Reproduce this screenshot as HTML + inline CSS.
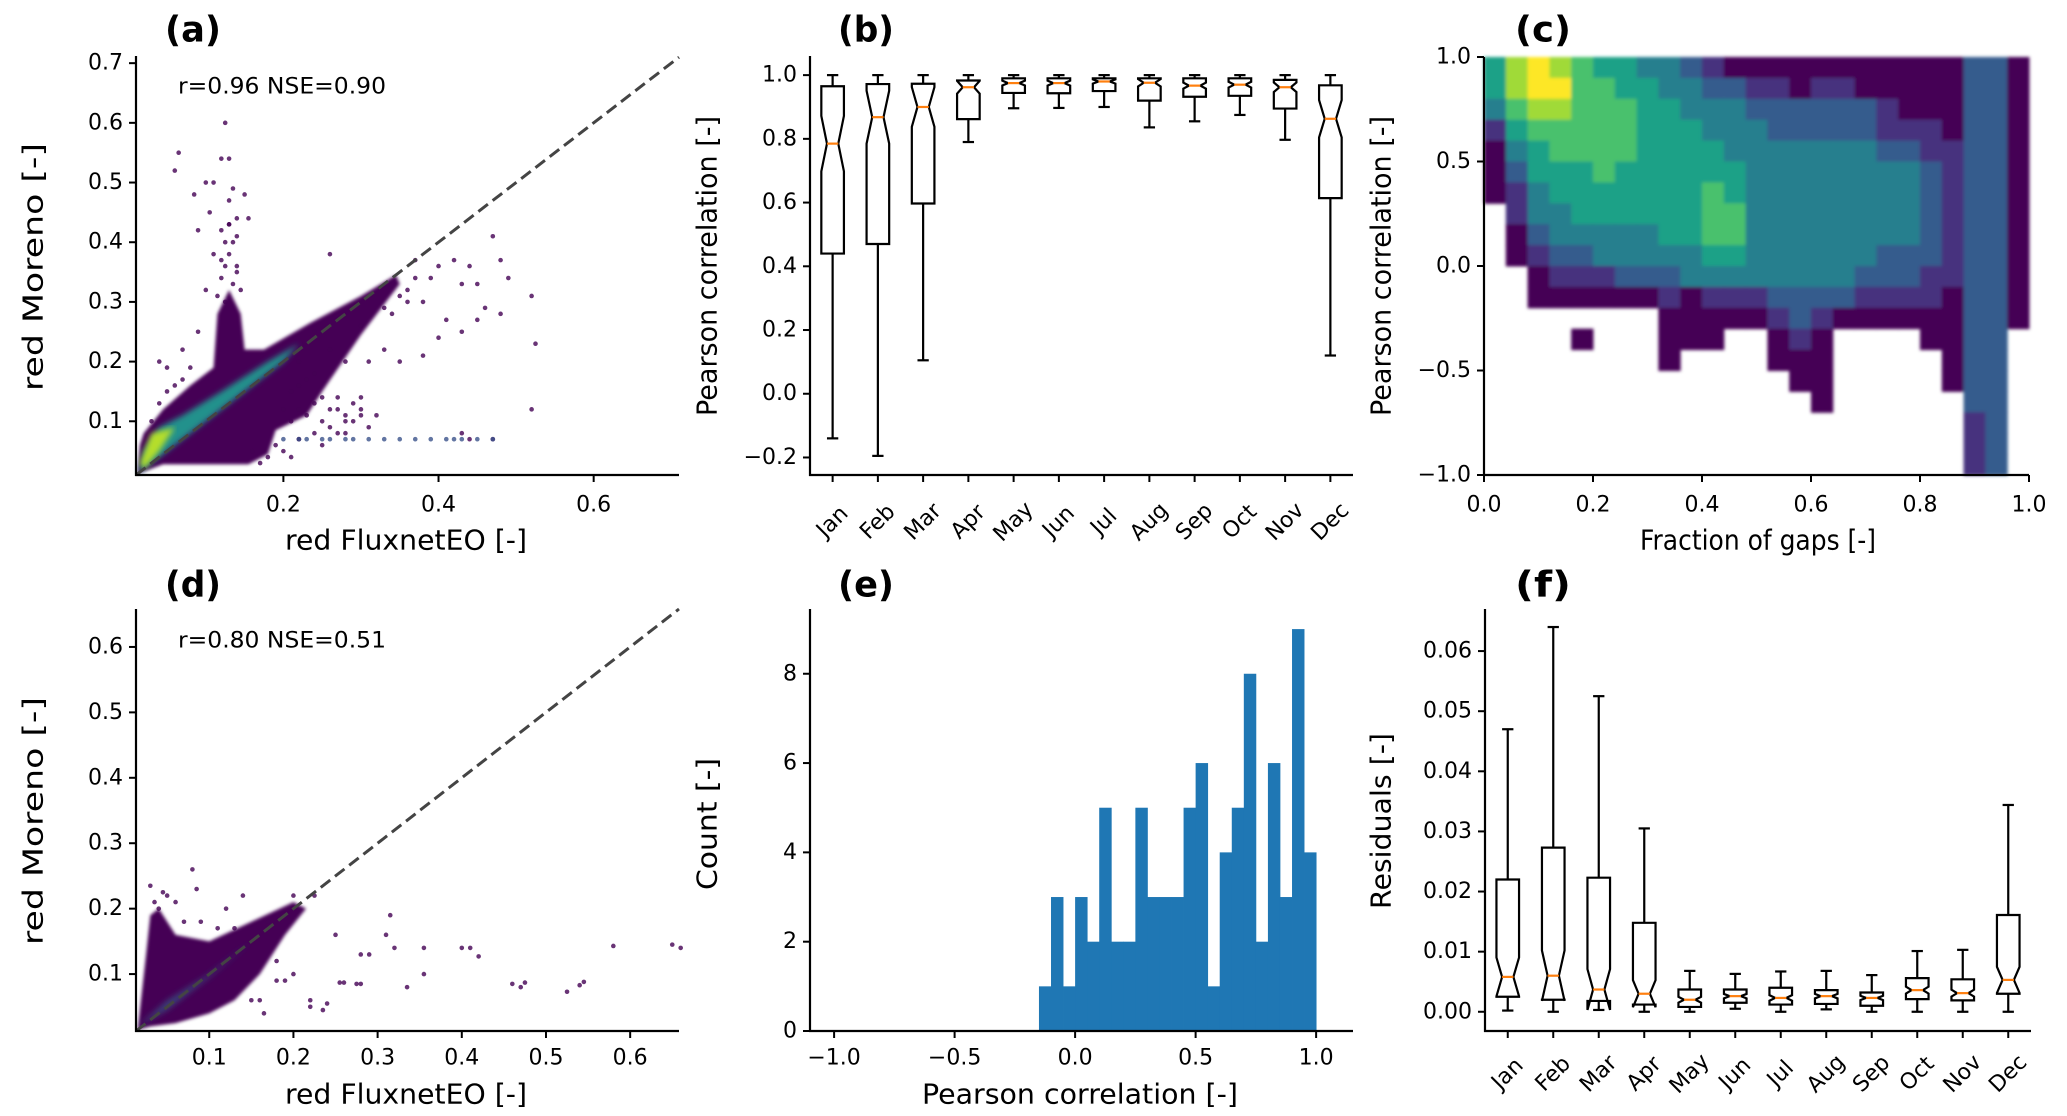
<!DOCTYPE html>
<html><head><meta charset="utf-8"><style>
html,body{margin:0;padding:0;background:#fff;}
svg{display:block;font-family:"DejaVu Sans","Liberation Sans",sans-serif;}
</style></head><body>
<svg id="fig" width="2067" height="1116" viewBox="0 0 2067 1116" xmlns="http://www.w3.org/2000/svg">
<defs><filter id="soft" x="-5%" y="-5%" width="110%" height="110%"><feGaussianBlur stdDeviation="3"/></filter>
<filter id="soft2" x="-5%" y="-5%" width="110%" height="110%"><feGaussianBlur stdDeviation="1.5"/></filter></defs>
</svg>
<script>
// ---------- data ----------
const months = ["Jan","Feb","Mar","Apr","May","Jun","Jul","Aug","Sep","Oct","Nov","Dec"];
// panel b: Pearson correlation per month
const bWhisLo = [-0.14,-0.195,0.105,0.79,0.896,0.897,0.90,0.836,0.855,0.875,0.797,0.12];
const bQ1 = [0.44,0.47,0.597,0.862,0.944,0.943,0.95,0.92,0.932,0.935,0.895,0.614];
const bMed = [0.785,0.868,0.90,0.962,0.975,0.975,0.98,0.976,0.967,0.97,0.962,0.863];
const bQ3 = [0.965,0.972,0.973,0.983,0.99,0.99,0.99,0.99,0.99,0.99,0.985,0.968];
const bWhisHi = [1.0,1.0,1.0,1.0,1.0,1.0,1.0,1.0,1.0,1.0,1.0,1.0];
const bTicks = [-0.2,0.0,0.2,0.4,0.6,0.8,1.0];
// panel f: residuals per month
const fWhisLo = [0.0002,0,0.0003,0,0,0.0005,0,0.0004,0,0,0,0];
const fQ1 = [0.0025,0.002,0.0018,0.0012,0.0008,0.0015,0.0012,0.0013,0.001,0.0021,0.0019,0.003];
const fMed = [0.0058,0.006,0.0037,0.003,0.002,0.0026,0.0023,0.0026,0.0023,0.0036,0.0031,0.0053];
const fQ3 = [0.022,0.0273,0.0223,0.0148,0.0037,0.0037,0.004,0.0036,0.0032,0.0056,0.0054,0.0161];
const fWhisHi = [0.047,0.064,0.0525,0.0305,0.0068,0.0063,0.0067,0.0068,0.0061,0.0101,0.0103,0.0344];
const fTicks = [0,0.01,0.02,0.03,0.04,0.05,0.06];
const notchN = 90;
// panel e: histogram
const eBinStart = -0.15, eBinWidth = 0.05;
const eCounts = [1,3,1,3,2,5,2,2,5,3,3,3,5,6,1,4,5,8,2,6,3,9,4];
const eXTicks = [-1.0,-0.5,0.0,0.5,1.0];
const eYTicks = [0,2,4,6,8];
// panel c: hexbin density levels (rows y=0.95..-0.95, cols x=0.02..0.98)
const cDensity = [
"5787655443211111111111331",
"5788665544332212211111331",
"4677666554443333332111331",
"2566666555444333332221331",
"1456666555544444443322331",
"1355565555554444444432331",
"1245555555654444444432331",
"0244555555664444444432331",
"0134444455664444444432331",
"0123344444554444443332331",
"0012223334444444433322331",
"0011111121222333322221331",
"0000000011111232111111331",
"0000100011100121000011330",
"0000000010000111000001330",
"0000000000000011000001330",
"0000000000000001000000330",
"0000000000000000000000230",
"0000000000000000000000230",
"0000000000000000000000230"];
const cXTicks = [0,0.2,0.4,0.6,0.8,1.0];
const cYTicks = [-1.0,-0.5,0.0,0.5,1.0];
// panel a: scatter
const aCloudX = [0.012,0.015,0.02,0.045,0.08,0.11,0.115,0.13,0.145,0.15,0.175,0.235,0.3,0.345,0.35,0.3,0.25,0.23,0.19,0.18,0.155,0.045];
const aCloudY = [0.012,0.06,0.08,0.12,0.16,0.19,0.28,0.32,0.28,0.22,0.22,0.265,0.31,0.345,0.33,0.245,0.15,0.11,0.085,0.045,0.028,0.028];
const aCoreX = [0.013,0.02,0.04,0.07,0.12,0.18,0.22,0.2,0.12,0.06,0.03];
const aCoreY = [0.013,0.05,0.09,0.11,0.15,0.2,0.23,0.2,0.12,0.06,0.03];
const aPtsX = [0.06,0.065,0.085,0.09,0.1,0.105,0.11,0.12,0.125,0.13,0.13,0.135,0.14,0.14,0.15,0.155,0.125,0.12,0.11,0.13,0.26,0.37,0.39,0.4,0.42,0.43,0.44,0.45,0.47,0.48,0.48,0.49,0.52,0.525,0.52,0.45,0.46,0.43,0.41,0.36,0.33,0.3,0.28,0.26,0.24,0.22,0.22,0.25,0.27,0.29,0.3,0.31,0.32,0.28,0.2,0.21,0.23,0.17,0.18,0.33,0.35,0.38,0.4,0.43,0.44,0.47,0.09,0.07,0.05,0.04,0.1,
 0.12,0.125,0.13,0.135,0.12,0.13,0.14,0.115,0.125,0.135,0.14,0.145,0.21,0.22,0.23,0.24,0.25,0.26,0.27,0.28,0.29,0.3,0.24,0.26,0.28,0.3,0.22,0.25,0.27,0.31,0.19,0.2,0.21,0.22,0.16,0.17,0.18,0.06,0.05,0.07,0.08,0.03,0.04,0.36,0.37,0.38,0.34,0.35,0.24,0.27];
const aPtsY = [0.52,0.55,0.48,0.42,0.5,0.45,0.5,0.54,0.6,0.54,0.47,0.49,0.41,0.44,0.48,0.44,0.4,0.37,0.38,0.43,0.38,0.37,0.34,0.36,0.37,0.33,0.36,0.33,0.41,0.37,0.28,0.34,0.31,0.23,0.12,0.27,0.29,0.25,0.27,0.3,0.29,0.26,0.2,0.22,0.18,0.2,0.16,0.14,0.12,0.1,0.11,0.09,0.11,0.08,0.12,0.15,0.17,0.16,0.19,0.22,0.2,0.21,0.24,0.08,0.07,0.07,0.25,0.22,0.19,0.2,0.32,
 0.34,0.36,0.38,0.4,0.42,0.43,0.36,0.31,0.3,0.33,0.35,0.32,0.1,0.12,0.11,0.13,0.1,0.12,0.14,0.11,0.13,0.12,0.08,0.09,0.1,0.14,0.07,0.06,0.08,0.2,0.06,0.05,0.04,0.07,0.05,0.03,0.04,0.16,0.15,0.17,0.19,0.1,0.13,0.32,0.34,0.3,0.28,0.31,0.25,0.27];
const aLineX = [0.2,0.22,0.23,0.25,0.26,0.28,0.29,0.31,0.33,0.35,0.37,0.39,0.41,0.42,0.43,0.45,0.47];
const aLineY = [0.07,0.07,0.07,0.07,0.07,0.07,0.07,0.07,0.07,0.07,0.07,0.07,0.07,0.07,0.07,0.07,0.07];
const aXTicks = [0.2,0.4,0.6];
const aYTicks = [0.1,0.2,0.3,0.4,0.5,0.6,0.7];
// panel d: scatter
const dCloudX = [0.015,0.025,0.03,0.04,0.06,0.1,0.15,0.2,0.215,0.19,0.16,0.13,0.1,0.06,0.03];
const dCloudY = [0.015,0.13,0.19,0.2,0.16,0.15,0.18,0.21,0.2,0.16,0.1,0.06,0.04,0.025,0.02];
const dPtsX = [0.25,0.28,0.29,0.315,0.31,0.32,0.355,0.355,0.335,0.255,0.26,0.275,0.28,0.4,0.41,0.42,0.46,0.47,0.475,0.525,0.54,0.545,0.58,0.65,0.66,0.22,0.24,0.235,0.22,0.18,0.19,0.2,0.165,0.08,0.085,0.03,0.045,0.14,0.225,0.2,0.17,0.15,0.12,0.06,0.05,0.035,0.04,0.07,0.09,0.11,0.13,0.16,0.18];
const dPtsY = [0.16,0.13,0.13,0.19,0.16,0.14,0.14,0.1,0.08,0.087,0.087,0.085,0.085,0.14,0.14,0.127,0.085,0.08,0.087,0.073,0.083,0.088,0.143,0.145,0.14,0.05,0.055,0.045,0.06,0.09,0.09,0.1,0.04,0.26,0.23,0.235,0.225,0.22,0.22,0.22,0.18,0.06,0.2,0.21,0.22,0.21,0.2,0.18,0.18,0.17,0.17,0.06,0.12];
const dTicks = [0.1,0.2,0.3,0.4,0.5,0.6];

// ---------- helpers ----------
const svg = document.getElementById('fig');
const NS = 'http://www.w3.org/2000/svg';
function mk(tag, attrs, parent) {
  const el = document.createElementNS(NS, tag);
  for (const k in attrs) el.setAttribute(k, attrs[k]);
  (parent || svg).appendChild(el);
  return el;
}
function lin(d0, d1, r0, r1) { return v => r0 + (v - d0) * (r1 - r0) / (d1 - d0); }
function fmt(v, dec) { const s = Math.abs(v).toFixed(dec); return (v < -1e-9 ? '\u2212' : '') + s; }
const viridis = ['#ffffff','#440154','#46327e','#365c8d','#277f8e','#1fa187','#4ac16d','#a0da39','#fde725'];

function axes(g, L, R, T, B) {
  const l1 = mk('line', {x1:L, y1:T, x2:L, y2:B+1, stroke:'#000', 'stroke-width':2.2}, g);
  
  
  const l2 = mk('line', {x1:L-1, y1:B, x2:R, y2:B, stroke:'#000', 'stroke-width':2.2}, g);
  
  
}
function xTicks(g, vals, sx, B, dec, labY) {
  vals.forEach(v => {
    const x = sx(v);
    const t = mk('line', {x1:x, y1:B, x2:x, y2:B+7, stroke:'#000', 'stroke-width':2}, g);
    
    
    const tx = mk('text', {x:x, y:labY, 'font-size':22, 'text-anchor':'middle', 'dominant-baseline':'central'}, g);
    tx.textContent = fmt(v, dec);
    
    
  });
}
function yTicks(g, vals, sy, L, dec) {
  vals.forEach(v => {
    const y = sy(v);
    const t = mk('line', {x1:L-7, y1:y, x2:L, y2:y, stroke:'#000', 'stroke-width':2}, g);
    
    
    const tx = mk('text', {x:L-13, y:y, 'font-size':22, 'text-anchor':'end', 'dominant-baseline':'central'}, g);
    tx.textContent = fmt(v, dec);
    
    
  });
}
function label(g, txt, x, y, rot, len, name, size) {
  const tx = mk('text', {x:x, y:y, 'font-size':size||28, 'text-anchor':'middle', 'dominant-baseline':'central', textLength:len, lengthAdjust:'spacingAndGlyphs'}, g);
  if (rot) tx.setAttribute('transform', 'rotate(' + rot + ' ' + x + ' ' + y + ')');
  tx.textContent = txt;
  
  
  return tx;
}
function panelLabel(txt, x, y, name) {
  const tx = mk('text', {x:x, y:y, 'font-size':36, 'font-weight':'bold', 'dominant-baseline':'central', textLength:56, lengthAdjust:'spacingAndGlyphs'});
  tx.textContent = txt;
  
  
}
function monthAxis(g, sx, B, labY) {
  months.forEach((m, i) => {
    const x = sx(i + 1);
    const t = mk('line', {x1:x, y1:B, x2:x, y2:B+7, stroke:'#000', 'stroke-width':2}, g);
    
    
    const tx = mk('text', {x:x, y:labY, 'font-size':22, 'text-anchor':'middle', 'dominant-baseline':'central', transform:'rotate(-45 ' + x + ' ' + labY + ')'}, g);
    tx.textContent = m;
    
    
  });
}
function boxes(g, sx, sy, lo, q1, med, q3, hi) {
  const hw = 11.3, k = 1.57 / Math.sqrt(notchN);
  months.forEach((m, i) => {
    const x = sx(i + 1), iqr = q3[i] - q1[i];
    const nlo = med[i] - k * iqr, nhi = med[i] + k * iqr;
    const L = x - hw, R = x + hw, cl = x - hw / 2, cr = x + hw / 2;
    const pts = [[L,q1[i]],[R,q1[i]],[R,nlo],[cr,med[i]],[R,nhi],[R,q3[i]],[L,q3[i]],[L,nhi],[cl,med[i]],[L,nlo]];
    const bg = mk('g', {}, g);
    
    
    mk('polygon', {points: pts.map(p => p[0] + ',' + sy(p[1])).join(' '), fill:'none', stroke:'#000', 'stroke-width':2.2, 'stroke-linejoin':'miter'}, bg);
    mk('line', {x1:x, y1:sy(q1[i]), x2:x, y2:sy(lo[i]), stroke:'#000', 'stroke-width':2.2}, bg);
    mk('line', {x1:x, y1:sy(q3[i]), x2:x, y2:sy(hi[i]), stroke:'#000', 'stroke-width':2.2}, bg);
    mk('line', {x1:x - hw / 2, y1:sy(lo[i]), x2:x + hw / 2, y2:sy(lo[i]), stroke:'#000', 'stroke-width':2.2}, bg);
    mk('line', {x1:x - hw / 2, y1:sy(hi[i]), x2:x + hw / 2, y2:sy(hi[i]), stroke:'#000', 'stroke-width':2.2}, bg);
    const md = mk('line', {x1:cl, y1:sy(med[i]), x2:cr, y2:sy(med[i]), stroke:'#ff7f0e', 'stroke-width':2.2}, bg);
    
    
  });
}
function poly(g, xs, ys, sx, sy, fill, name, extra) {
  const p = mk('polygon', Object.assign({points: xs.map((x, i) => sx(x) + ',' + sy(ys[i])).join(' '), fill: fill}, extra || {}), g);
  
  
}
function dots(g, xs, ys, sx, sy, col, name) {
  xs.forEach((x, i) => {
    const c = mk('circle', {cx:sx(x), cy:sy(ys[i]), r:2.3, fill:col, 'fill-opacity':0.8}, g);
    
    
  });
}
function diag(g, sx, sy, lo, hi) {
  const l = mk('line', {x1:sx(lo), y1:sy(lo), x2:sx(hi), y2:sy(hi), stroke:'#444', 'stroke-width':3, 'stroke-dasharray':'12 6'}, g);
  
  
}

// ---------- panel a ----------
(function () {
  const g = mk('g', {});  
  const L = 136, R = 679, T = 56, B = 475;
  const sx = lin(0.01, 0.71, L, R), sy = lin(0.01, 0.712, B, T);
  poly(g, aCloudX, aCloudY, sx, sy, '#440154', 'scatter-dense-region', {filter:'url(#soft2)'});
  dots(g, aPtsX, aPtsY, sx, sy, '#440154', 'scatter-point');
  dots(g, aLineX, aLineY, sx, sy, '#3b528b', 'scatter-point');
  poly(g, aCoreX, aCoreY, sx, sy, '#21918c', 'scatter-core', {filter:'url(#soft)'});
  poly(g, [0.015,0.03,0.06,0.04,0.02], [0.03,0.08,0.09,0.05,0.02], sx, sy, '#b5de2b', 'scatter-peak', {filter:'url(#soft)'});
  diag(g, sx, sy, 0.01, 0.71);
  axes(g, L, R, T, B);
  xTicks(g, aXTicks, sx, B, 1, 505);
  yTicks(g, aYTicks, sy, L, 1);
  label(g, 'red FluxnetEO [-]', 406, 540, 0, 242, 'x-axis-title');
  label(g, 'red Moreno [-]', 33, 267, -90, 248, 'y-axis-title');
  const t = mk('text', {x:178, y:87, 'font-size':22, 'dominant-baseline':'central', textLength:208, lengthAdjust:'spacingAndGlyphs'}, g);
  t.textContent = 'r=0.96 NSE=0.90';  
  panelLabel('(a)', 165, 30, 'panel-label-a');
})();

// ---------- panel b ----------
(function () {
  const g = mk('g', {});  
  const L = 810, R = 1353, T = 56, B = 475;
  const sx = lin(0.5, 12.5, L, R), sy = lin(-0.255, 1.06, B, T);
  boxes(g, sx, sy, bWhisLo, bQ1, bMed, bQ3, bWhisHi);
  axes(g, L, R, T, B);
  yTicks(g, bTicks, sy, L, 1);
  monthAxis(g, sx, B, 522);
  label(g, 'Pearson correlation [-]', 707, 266, -90, 300, 'y-axis-title');
  panelLabel('(b)', 838, 30, 'panel-label-b');
})();

// ---------- panel c ----------
(function () {
  const g = mk('g', {});  
  const L = 1484, R = 2029, T = 57, B = 475;
  const sx = lin(0, 1, L, R), sy = lin(-1, 1, B, T);
  const hg = mk('g', {filter:'url(#soft2)'}, g);
   
  cDensity.forEach((row, r) => {
    const yc = 0.95 - 0.1 * r;
    for (let c = 0; c < row.length; c++) {
      const lev = +row[c];
      if (!lev) continue;
      const xc = 0.02 + 0.04 * c;
      const rect = mk('rect', {x:sx(xc - 0.02), y:sy(yc + 0.05), width:sx(xc + 0.02) - sx(xc - 0.02) + 0.5, height:sy(yc - 0.05) - sy(yc + 0.05) + 0.5, fill:viridis[lev]}, hg);
      
      
    }
  });
  axes(g, L, R, T, B);
  xTicks(g, cXTicks, sx, B, 1, 505);
  yTicks(g, cYTicks, sy, L, 1);
  label(g, 'Fraction of gaps [-]', 1758, 540, 0, 236, 'x-axis-title');
  label(g, 'Pearson correlation [-]', 1381, 266, -90, 300, 'y-axis-title');
  panelLabel('(c)', 1515, 30, 'panel-label-c');
})();

// ---------- panel d ----------
(function () {
  const g = mk('g', {});  
  const L = 136, R = 679, T = 609, B = 1031;
  const sx = lin(0.013, 0.658, L, R), sy = lin(0.013, 0.658, B, T);
  poly(g, dCloudX, dCloudY, sx, sy, '#440154', 'scatter-dense-region', {filter:'url(#soft2)'});
  dots(g, dPtsX, dPtsY, sx, sy, '#440154', 'scatter-point');
  poly(g, [0.015,0.05,0.1,0.15,0.1,0.05], [0.02,0.06,0.1,0.15,0.095,0.045], sx, sy, '#31688e', 'scatter-core', {filter:'url(#soft)', 'fill-opacity':0.6});
  diag(g, sx, sy, 0.013, 0.658);
  axes(g, L, R, T, B);
  xTicks(g, dTicks, sx, B, 1, 1058);
  yTicks(g, dTicks, sy, L, 1);
  label(g, 'red FluxnetEO [-]', 406, 1094, 0, 242, 'x-axis-title');
  label(g, 'red Moreno [-]', 33, 821, -90, 248, 'y-axis-title');
  const t = mk('text', {x:178, y:641, 'font-size':22, 'dominant-baseline':'central', textLength:208, lengthAdjust:'spacingAndGlyphs'}, g);
  t.textContent = 'r=0.80 NSE=0.51';  
  panelLabel('(d)', 165, 585, 'panel-label-d');
})();

// ---------- panel e ----------
(function () {
  const g = mk('g', {});  
  const L = 810, R = 1353, T = 609, B = 1031;
  const sx = lin(-1.1, 1.153, L, R), sy = lin(0, 9.45, B, T);
  eCounts.forEach((c, i) => {
    const x0 = eBinStart + i * eBinWidth;
    const r = mk('rect', {x:sx(x0), y:sy(c), width:sx(x0 + eBinWidth) - sx(x0) + 0.4, height:sy(0) - sy(c), fill:'#1f77b4'}, g);
    
    
  });
  axes(g, L, R, T, B);
  xTicks(g, eXTicks, sx, B, 1, 1058);
  yTicks(g, eYTicks, sy, L, 0);
  label(g, 'Pearson correlation [-]', 1080, 1094, 0, 316, 'x-axis-title');
  label(g, 'Count [-]', 707, 824, -90, 132, 'y-axis-title');
  panelLabel('(e)', 838, 585, 'panel-label-e');
})();

// ---------- panel f ----------
(function () {
  const g = mk('g', {});  
  const L = 1485, R = 2031, T = 609, B = 1031;
  const sx = lin(0.5, 12.5, L, R), sy = lin(-0.0032, 0.067, B, T);
  boxes(g, sx, sy, fWhisLo, fQ1, fMed, fQ3, fWhisHi);
  axes(g, L, R, T, B);
  yTicks(g, fTicks, sy, L, 2);
  monthAxis(g, sx, B, 1074);
  label(g, 'Residuals [-]', 1381, 821, -90, 176, 'y-axis-title');
  panelLabel('(f)', 1515, 585, 'panel-label-f');
})();
</script>
</body></html>
